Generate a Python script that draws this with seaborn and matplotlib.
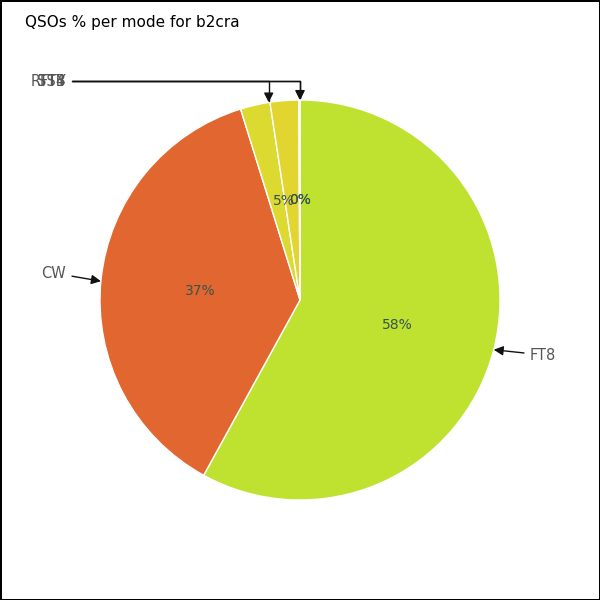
import numpy as np
import matplotlib
matplotlib.use("Agg")
import matplotlib.pyplot as plt
import seaborn as sns

sns.set_theme(style="white")
plt.rcParams["font.family"] = ["DejaVu Sans"]

# data
modes = ["FT8", "CW", "RTTY", "SSB", "FT4"]
shares = [58.0, 37.2, 2.4, 2.3, 0.1]          # slice sizes as drawn
shown_pct = [58, 37, 5, 0, 0]                 # percentages printed on the chart
colors = ["#bee22f", "#e2662f", "#dcd930", "#e2d52f", "#e2c02f"]

fig = plt.figure(figsize=(6, 6), dpi=100)
fig.patch.set_edgecolor("black")
fig.patch.set_linewidth(1)
ax = fig.add_axes([0, 0, 1, 1])

ax.pie(shares, colors=colors, startangle=90, counterclock=False, radius=1.0,
       wedgeprops={"edgecolor": "white", "linewidth": 1})
ax.set_xlim(-1.5, 1.5)
ax.set_ylim(-1.5, 1.5)
ax.set_aspect("equal")
ax.axis("off")

# label positions follow the printed (rounded) percentages
cum = np.cumsum(shown_pct)
mids = cum - np.array(shown_pct) / 2.0
angles = np.deg2rad(mids / 100.0 * 360.0)  # clockwise from top

for pct, a in zip(shown_pct, angles):
    ax.text(0.5 * np.sin(a), 0.5 * np.cos(a), f"{pct}%", ha="center", va="center",
            fontsize=10, color="#35554f")

# outer labels with leader arrows
text_pos = {
    "FT8": (1.15, -0.275, "left"),
    "CW": (-1.17, 0.135, "right"),
}
for mode, a in zip(modes, angles):
    tx, ty = np.sin(a), np.cos(a)
    if mode in text_pos:
        x, y, ha = text_pos[mode]
        conn = "arc3"
    else:
        x, y, ha = -1.17, 1.095, "right"
        conn = "angle,angleA=0,angleB=90,rad=0"
    ax.annotate(mode, xy=(tx, ty), xytext=(x, y), ha=ha, va="center",
                fontsize=10.5, color="#555555",
                arrowprops=dict(arrowstyle="-|>", color="#111111", lw=1,
                                connectionstyle=conn, shrinkA=2, shrinkB=0,
                                mutation_scale=14))

fig.text(25 / 600, 1 - 22 / 600, "QSOs % per mode for b2cra", ha="left", va="center",
         fontsize=11, color="black")

fig.savefig("out.png", dpi=100, edgecolor=fig.get_edgecolor())
